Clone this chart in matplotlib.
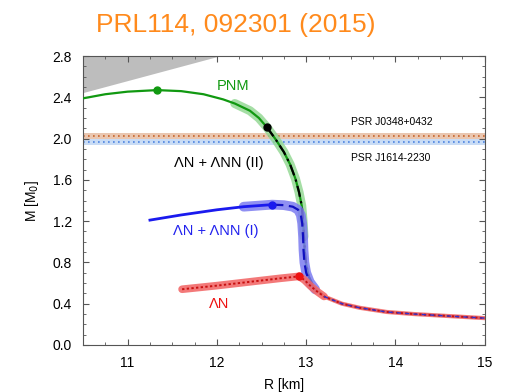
import numpy as np
import matplotlib.pyplot as plt
from matplotlib.ticker import MultipleLocator

plt.rcParams['font.family'] = ['Liberation Sans', 'DejaVu Sans']

# mass-radius curves: R in km, M in solar masses
# low-mass branch shared by all equations of state
tail_R = [13.2, 13.4, 13.6, 13.9, 14.2, 14.6, 15.0]
tail_M = [0.47, 0.40, 0.36, 0.32, 0.30, 0.28, 0.26]

pnm_R = [10.5, 10.75, 11.0, 11.33, 11.6, 11.85, 12.07, 12.2, 12.37, 12.47, 12.56,
         12.66, 12.75, 12.82, 12.88, 12.92, 12.95, 12.965, 12.975, 12.985, 13.0, 13.03, 13.08]
pnm_M = [2.39, 2.43, 2.455, 2.47, 2.46, 2.43, 2.38, 2.34, 2.27, 2.2, 2.11,
         1.99, 1.87, 1.75, 1.61, 1.48, 1.35, 1.2, 1.05, 0.9, 0.78, 0.66, 0.57]
pnm_max = (11.33, 2.47)

# LN + LNN (II) coincides with PNM below its own maximum
lnn2_max = (12.56, 2.11)

lnn1_R = [11.25, 11.6, 12.0, 12.3, 12.62, 12.75, 12.85, 12.91, 12.94, 12.955,
          12.965, 12.97, 12.98, 13.0, 13.04, 13.1]
lnn1_M = [1.21, 1.26, 1.31, 1.34, 1.36, 1.355, 1.34, 1.31, 1.26, 1.18,
          1.05, 0.92, 0.80, 0.70, 0.61, 0.54]
lnn1_max = (12.62, 1.36)

ln_R = [11.61, 12.0, 12.4, 12.7, 12.92, 12.98, 13.05, 13.12]
ln_M = [0.54, 0.575, 0.615, 0.645, 0.665, 0.63, 0.57, 0.52]
ln_max = (12.92, 0.665)

# observed pulsar masses
psr_a = (2.0, 2.055, 2.025)   # J0348+0432: low, high, central
psr_b = (1.94, 2.0, 1.97)     # J1614-2230

# causality-excluded region
excl_R = [10.5, 12.05, 10.5]
excl_M = [2.44, 2.8, 2.8]

fig = plt.figure(figsize=(5.06, 3.92), dpi=100)
ax = fig.add_axes([0.164, 0.12, 0.794, 0.737])

ax.fill(excl_R, excl_M, color='#bdbdbd', lw=0, zorder=1)

ax.axhspan(psr_b[0], psr_b[1], color='#c9dcf5', lw=0, zorder=1)
ax.axhspan(psr_a[0], psr_a[1], color='#e9c6b0', lw=0, zorder=1)
ax.axhline(psr_a[2], color='#c8642a', ls=(0, (1, 2)), lw=1.2, zorder=2)
ax.axhline(psr_b[2], color='#4d84e0', ls=(0, (1, 2)), lw=1.2, zorder=2)

pR = np.array(pnm_R + tail_R)
pM = np.array(pnm_M + tail_M)
bR = np.array(lnn1_R + tail_R)
bM = np.array(lnn1_M + tail_M)
rR = np.array(ln_R + tail_R)
rM = np.array(ln_M + tail_M)

# PNM / LNN (II)
k = pnm_R.index(lnn2_max[0])
ax.plot(pnm_R[7:19], pnm_M[7:19], color='#8fd68f', lw=6.5, alpha=0.8,
        solid_capstyle='round', zorder=3)
ax.plot(pR, pM, color='#119911', lw=1.6, zorder=4)
ax.plot(pR[k:], pM[k:], color='black', lw=1.6, ls=(0, (5, 2, 1, 2)), zorder=5)
ax.plot(*pnm_max, 'o', color='#119911', ms=5, zorder=6)
ax.plot(*lnn2_max, 'o', color='black', ms=5, zorder=6)

# LN + LNN (I)
j = lnn1_R.index(lnn1_max[0])
ax.plot(bR[3:16], bM[3:16], color='#7b7bf0', lw=7, alpha=0.85,
        solid_capstyle='round', zorder=6)
ax.plot(bR[:j + 1], bM[:j + 1], color='#1a1aee', lw=2, zorder=7)
ax.plot(bR[j:], bM[j:], color='#1010c0', lw=1.6, ls=(0, (5, 2.5)), zorder=7)
ax.plot(*lnn1_max, 'o', color='#1a1aee', ms=5, zorder=8)

# LN
ax.plot(rR[:9], rM[:9], color='#f26a6a', lw=5.5, alpha=0.9,
        solid_capstyle='round', zorder=8)
ax.plot(rR[8:], rM[8:], color='#f26a6a', lw=3, alpha=0.9, zorder=8)
ax.plot(rR, rM, color='#c81010', lw=1.4, ls=(0, (1.2, 1.2)), zorder=9)
ax.plot(tail_R, tail_M, color='#3030d0', lw=1, ls=(0, (3, 3)), zorder=9)
ax.plot(*ln_max, 'o', color='#ee1111', ms=5, zorder=10)

ax.text(12.18, 2.51, 'PNM', color='#119911', fontsize=10.5, ha='center', va='center')
ax.text(13.5, 2.16, 'PSR J0348+0432', color='black', fontsize=7.5, ha='left', va='center')
ax.text(13.5, 1.81, 'PSR J1614-2230', color='black', fontsize=7.5, ha='left', va='center')
ax.text(12.02, 1.76, 'ΛN + ΛNN (II)', color='black', fontsize=10.5, ha='center', va='center')
ax.text(11.99, 1.10, 'ΛN + ΛNN (I)', color='#2222ee', fontsize=10.5, ha='center', va='center')
ax.text(12.03, 0.40, 'ΛN', color='#ee1111', fontsize=10.5, ha='center', va='center')

ax.set_xlim(10.5, 15)
ax.set_ylim(0, 2.8)
ax.xaxis.set_major_locator(MultipleLocator(1))
ax.xaxis.set_minor_locator(MultipleLocator(0.25))
ax.yaxis.set_major_locator(MultipleLocator(0.4))
ax.yaxis.set_minor_locator(MultipleLocator(0.1))
ax.set_yticks(np.arange(0, 2.81, 0.4))
ax.set_yticklabels([f'{v:.1f}' for v in np.arange(0, 2.81, 0.4)])
ax.tick_params(which='both', direction='in', top=True, right=True,
               colors='#555555', labelcolor='black', labelsize=10)
ax.tick_params(which='major', length=4, pad=8)
ax.tick_params(which='minor', length=2)
for s in ax.spines.values():
    s.set_color('#555555')

ax.set_xlabel('R [km]', fontsize=10, labelpad=6)
ax.set_ylabel('M [M$_0$]', fontsize=10, labelpad=8)

fig.text(0.466, 0.936, 'PRL114, 092301 (2015)', color='#ff8a1c', fontsize=19,
         ha='center', va='center')

fig.savefig('out.png', dpi=100)
